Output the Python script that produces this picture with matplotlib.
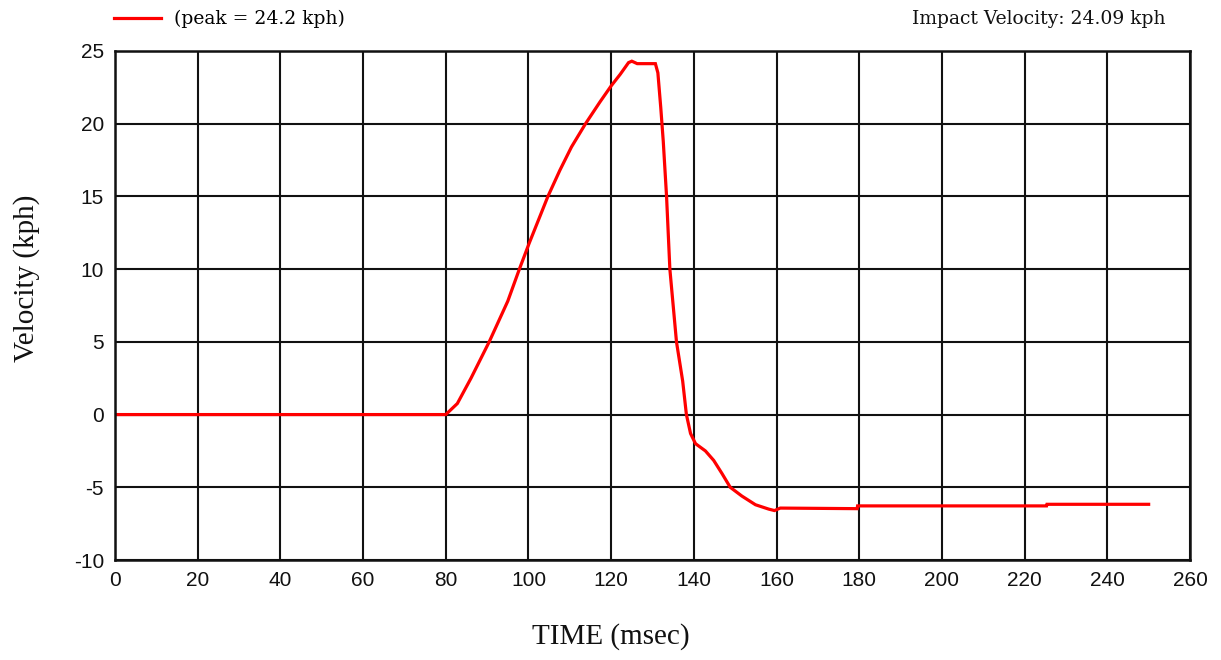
import matplotlib
matplotlib.use("Agg")
import matplotlib.pyplot as plt

plt.rcParams["axes.unicode_minus"] = False

# velocity trace (msec, kph)
time_ms = [0, 80, 82.8, 86.1, 90.5, 95, 97.8, 100.2, 104.7, 107.6, 110.4,
           113.8, 117.3, 120, 122.2, 124.2, 125, 126.3, 130.7, 131.3, 132,
           132.6, 133.4, 134.2, 135.8, 137.3, 138.2, 139.2, 140.4, 142.8,
           144.8, 146.8, 148.8, 151.6, 154.9, 158.1, 159.5, 160.9, 179.5,
           179.6, 225.3, 225.4, 250]
velocity = [0, 0, 0.76, 2.5, 5.0, 7.8, 10.0, 11.8, 15.0, 16.8, 18.4,
            20.0, 21.5, 22.6, 23.4, 24.2, 24.3, 24.13, 24.13, 23.5, 21.1,
            18.8, 15.0, 10.0, 5.0, 2.3, 0.0, -1.3, -2.0, -2.5,
            -3.15, -4.05, -5.0, -5.6, -6.2, -6.5, -6.6, -6.43, -6.47,
            -6.28, -6.28, -6.17, -6.17]

x_ticks = list(range(0, 261, 20))
y_ticks = list(range(-10, 26, 5))

peak_label = "(peak = 24.2 kph)"
impact_label = "Impact Velocity: 24.09 kph"

RED = "#FF0000"
TICK_FONT = "Liberation Sans"
LABEL_FONT = "Liberation Serif"
NOTE_FONT = "DejaVu Serif"

fig = plt.figure(figsize=(12.21, 6.6), dpi=100)
ax = fig.add_axes([115 / 1221, 1 - 560 / 660, 1075 / 1221, 509 / 660])

line, = ax.plot(time_ms, velocity, color=RED, lw=2.3, solid_joinstyle="miter")

ax.set_xlim(0, 260)
ax.set_ylim(-10, 25)
ax.set_xticks(x_ticks)
ax.set_yticks(y_ticks)
ax.grid(True, color="#111111", lw=1.5)
ax.set_axisbelow(True)
for s in ax.spines.values():
    s.set_color("#111111")
    s.set_linewidth(1.8)
ax.tick_params(length=0, pad=8)
for lab in ax.get_xticklabels() + ax.get_yticklabels():
    lab.set_fontfamily(TICK_FONT)
    lab.set_fontsize(15)
    lab.set_color("#111111")

fig.text(0.5, 1 - 637 / 660, "TIME (msec)", ha="center", va="center",
         fontsize=21, family=LABEL_FONT, color="#111111")
fig.text(27 / 1221, 1 - 278 / 660, "Velocity (kph)", ha="center", va="center",
         rotation=90, fontsize=21, family=LABEL_FONT, color="#111111")

fig.legend([line], [peak_label], loc="center left",
           bbox_to_anchor=(114 / 1221, 1 - 19 / 660), frameon=False,
           handlelength=2.5, handletextpad=0.7, borderpad=0, borderaxespad=0,
           prop={"family": NOTE_FONT, "size": 13.5})
fig.text(1166 / 1221, 1 - 19 / 660, impact_label, ha="right", va="center",
         fontsize=13.5, family=NOTE_FONT, color="#111111")

fig.savefig("out.png", dpi=100)
